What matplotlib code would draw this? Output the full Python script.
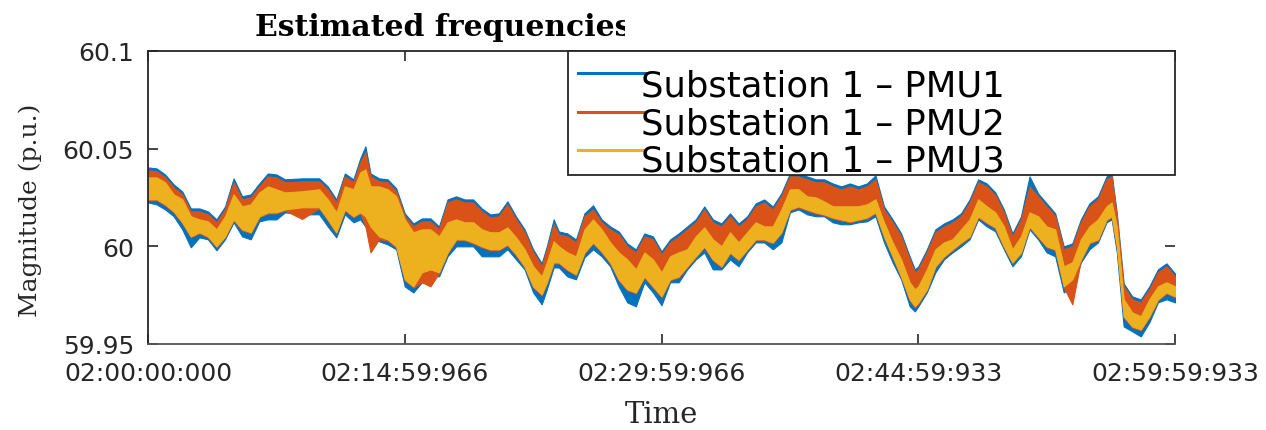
import matplotlib
matplotlib.use("Agg")
import matplotlib.pyplot as plt
from matplotlib.patches import Rectangle
from matplotlib.lines import Line2D
from matplotlib.transforms import Bbox, TransformedBbox

# tempo em minutos a partir de 02:00:00
minutos = [0, 0.5, 1, 1.5, 2, 2.5, 3, 3.5, 4, 4.5, 5, 5.5, 6, 6.5, 7, 7.5, 8,
           9, 10,
           10.5, 11, 11.5, 12,
           12.4, 12.7,
           13, 13.5, 14, 14.5, 15, 15.5, 16, 16.5, 17, 17.5, 18, 18.5, 19, 19.5, 20, 20.5, 21, 21.5, 22, 22.5, 23,
           23.3, 23.7,
           24, 24.5, 25, 25.5, 26, 26.5, 27, 27.5, 28, 28.5, 29, 29.5, 30, 30.5, 31, 31.5, 32, 32.5, 33, 33.5,
           34, 34.5, 35, 35.5, 36, 36.5, 37, 37.5, 38, 38.5, 39, 39.5, 40, 40.5, 41, 41.5, 42, 42.5, 43, 43.5,
           44, 44.5,
           44.8,
           45, 45.5, 46, 46.5, 47, 47.5, 48, 48.5, 49, 49.5, 50, 50.5, 51, 51.5, 52, 52.5, 53, 53.5, 54, 54.5,
           55, 55.5, 56,
           56.3, 56.6,
           57, 57.5, 58, 58.5, 59, 59.5, 60]

# PMU1 (faixa de ruido: minimo / maximo)
pmu1_max = [60.0404, 60.0399, 60.0368, 60.0317, 60.0281, 60.0194, 60.0194, 60.0179, 60.0138, 60.0204, 60.0348, 60.0256, 60.0266, 60.0322, 60.0373, 60.0368, 60.0343,
            60.0348, 60.0348,
            60.0307, 60.0240, 60.0373, 60.0343,
            60.0450, 60.0512,
            60.0373, 60.0348, 60.0343, 60.0297, 60.0169, 60.0117, 60.0143, 60.0143, 60.0102, 60.0240, 60.0256, 60.0240, 60.0240, 60.0194, 60.0163, 60.0169, 60.0230, 60.0153, 60.0087, 59.9984, 59.9913,
            60.0000, 60.0138,
            60.0076, 60.0066, 60.0035, 60.0169, 60.0210, 60.0138, 60.0102, 60.0076, 60.0015, 59.9984, 60.0066, 60.0051, 59.9974, 60.0035, 60.0066, 60.0102, 60.0138, 60.0204, 60.0138, 60.0117,
            60.0169, 60.0117, 60.0153, 60.0220, 60.0240, 60.0204, 60.0271, 60.0373, 60.0373, 60.0358, 60.0343, 60.0343, 60.0322, 60.0307, 60.0322, 60.0307, 60.0322, 60.0363, 60.0204, 60.0138,
            60.0066, 59.9948,
            59.9882,
            59.9897, 59.9984, 60.0087, 60.0117, 60.0138, 60.0169, 60.0240, 60.0343, 60.0322, 60.0276, 60.0189, 60.0066, 60.0153, 60.0358, 60.0271, 60.0220, 60.0169, 60.0000, 60.0015, 60.0138,
            60.0220, 60.0256, 60.0358,
            60.0373, 60.0169,
            59.9810, 59.9744, 59.9728, 59.9795, 59.9882, 59.9913, 59.9861]
pmu1_min = [60.0225, 60.0215, 60.0189, 60.0154, 60.0087, 59.9995, 60.0046, 60.0036, 59.9980, 60.0036, 60.0123, 60.0051, 60.0036, 60.0128, 60.0138, 60.0138, 60.0174,
            60.0164, 60.0164,
            60.0102, 60.0046, 60.0164, 60.0123,
            60.0138, 60.0102,
            60.0061, 60.0026, 60.0010, 59.9985, 59.9795, 59.9764, 59.9816, 59.9857, 59.9846, 59.9949, 60.0000, 60.0000, 60.0000, 59.9949, 59.9949, 59.9949, 59.9985, 59.9933, 59.9882, 59.9764, 59.9703,
            59.9780, 59.9892,
            59.9892, 59.9846, 59.9831, 59.9944, 59.9985, 59.9949, 59.9898, 59.9795, 59.9713, 59.9693, 59.9816, 59.9764, 59.9698, 59.9816, 59.9816, 59.9882, 59.9933, 59.9969, 59.9882, 59.9882,
            59.9933, 59.9898, 59.9969, 60.0020, 60.0020, 59.9985, 60.0020, 60.0174, 60.0189, 60.0164, 60.0154, 60.0154, 60.0123, 60.0113, 60.0113, 60.0123, 60.0128, 60.0154, 60.0020, 59.9918,
            59.9831, 59.9693,
            59.9667,
            59.9693, 59.9764, 59.9867, 59.9933, 59.9969, 60.0000, 60.0036, 60.0138, 60.0102, 60.0077, 59.9985, 59.9898, 59.9949, 60.0087, 60.0036, 59.9969, 59.9949, 59.9764, 59.9795, 59.9918,
            59.9985, 60.0020, 60.0123,
            60.0138, 59.9969,
            59.9590, 59.9565, 59.9539, 59.9611, 59.9713, 59.9729, 59.9713]

# PMU2
pmu2_max = [60.0389, 60.0384, 60.0353, 60.0302, 60.0266, 60.0179, 60.0179, 60.0164, 60.0123, 60.0189, 60.0328, 60.0241, 60.0251, 60.0307, 60.0358, 60.0353, 60.0328,
            60.0333, 60.0333,
            60.0292, 60.0225, 60.0358, 60.0328,
            60.0430, 60.0481,
            60.0358, 60.0333, 60.0328, 60.0282, 60.0154, 60.0102, 60.0128, 60.0128, 60.0087, 60.0225, 60.0241, 60.0225, 60.0225, 60.0179, 60.0148, 60.0154, 60.0215, 60.0138, 60.0072, 59.9969, 59.9898,
            59.9985, 60.0113,
            60.0061, 60.0051, 60.0020, 60.0154, 60.0189, 60.0123, 60.0087, 60.0061, 60.0000, 59.9969, 60.0051, 60.0036, 59.9959, 60.0020, 60.0051, 60.0087, 60.0123, 60.0189, 60.0123, 60.0102,
            60.0154, 60.0102, 60.0138, 60.0205, 60.0225, 60.0189, 60.0256, 60.0358, 60.0358, 60.0343, 60.0328, 60.0328, 60.0307, 60.0292, 60.0307, 60.0292, 60.0307, 60.0343, 60.0189, 60.0123,
            60.0051, 59.9933,
            59.9867,
            59.9882, 59.9969, 60.0072, 60.0102, 60.0123, 60.0154, 60.0225, 60.0328, 60.0307, 60.0261, 60.0174, 60.0051, 60.0138, 60.0307, 60.0256, 60.0205, 60.0154, 59.9985, 60.0000, 60.0123,
            60.0205, 60.0241, 60.0343,
            60.0358, 60.0154,
            59.9795, 59.9729, 59.9713, 59.9780, 59.9867, 59.9898, 59.9846]
pmu2_min = [60.0236, 60.0236, 60.0210, 60.0174, 60.0118, 60.0046, 60.0067, 60.0046, 59.9995, 60.0046, 60.0133, 60.0082, 60.0067, 60.0149, 60.0169, 60.0169, 60.0184,
            60.0140, 60.0195,
            60.0133, 60.0067, 60.0184, 60.0149,
            60.0169, 60.0102,
            59.9969, 60.0036, 60.0030, 59.9995, 59.9826, 59.9790, 59.9816, 59.9795, 59.9862, 59.9964, 60.0031, 60.0031, 60.0015, 59.9995, 59.9980, 59.9980, 60.0005, 59.9954, 59.9893, 59.9790, 59.9749,
            59.9811, 59.9913,
            59.9913, 59.9877, 59.9852, 59.9964, 60.0015, 59.9969, 59.9913, 59.9826, 59.9775, 59.9759, 59.9841, 59.9790, 59.9739, 59.9826, 59.9841, 59.9893, 59.9944, 59.9995, 59.9928, 59.9893,
            59.9964, 59.9928, 59.9980, 60.0031, 60.0031, 60.0015, 60.0067, 60.0184, 60.0200, 60.0184, 60.0169, 60.0159, 60.0143, 60.0133, 60.0123, 60.0133, 60.0143, 60.0169, 60.0046, 59.9944,
            59.9841, 59.9724,
            59.9688,
            59.9708, 59.9775, 59.9893, 59.9944, 59.9980, 60.0015, 60.0046, 60.0149, 60.0118, 60.0092, 59.9995, 59.9913, 59.9964, 60.0097, 60.0046, 59.9995, 59.9980, 59.9790, 59.9703, 59.9928,
            60.0015, 60.0031, 60.0133,
            60.0149, 59.9995,
            59.9637, 59.9585, 59.9570, 59.9637, 59.9724, 59.9759, 59.9739]

# PMU3
pmu3_max = [60.0353, 60.0353, 60.0328, 60.0266, 60.0241, 60.0154, 60.0138, 60.0128, 60.0087, 60.0154, 60.0266, 60.0205, 60.0215, 60.0276, 60.0307, 60.0292, 60.0276,
            60.0282, 60.0292,
            60.0241, 60.0174, 60.0307, 60.0292,
            60.0379, 60.0394,
            60.0307, 60.0307, 60.0292, 60.0256, 60.0138, 60.0072, 60.0087, 60.0087, 60.0051, 60.0123, 60.0138, 60.0123, 60.0123, 60.0087, 60.0072, 60.0072, 60.0097, 60.0046, 59.9985, 59.9898, 59.9846,
            59.9918, 60.0026,
            60.0000, 59.9969, 59.9949, 60.0087, 60.0138, 60.0087, 60.0020, 59.9969, 59.9933, 59.9882, 59.9969, 59.9933, 59.9867, 59.9949, 59.9969, 59.9985, 60.0051, 60.0097, 60.0036, 60.0000,
            60.0072, 60.0020, 60.0072, 60.0123, 60.0102, 60.0102, 60.0189, 60.0292, 60.0292, 60.0256, 60.0251, 60.0230, 60.0205, 60.0205, 60.0205, 60.0205, 60.0215, 60.0241, 60.0123, 60.0020,
            59.9933, 59.9816,
            59.9780,
            59.9795, 59.9882, 59.9985, 60.0020, 60.0036, 60.0087, 60.0138, 60.0241, 60.0205, 60.0174, 60.0102, 59.9985, 60.0051, 60.0174, 60.0154, 60.0102, 60.0087, 59.9898, 59.9918, 60.0036,
            60.0102, 60.0138, 60.0205,
            60.0225, 60.0102,
            59.9729, 59.9662, 59.9642, 59.9729, 59.9795, 59.9816, 59.9795]
pmu3_min = [60.0241, 60.0241, 60.0215, 60.0179, 60.0123, 60.0051, 60.0072, 60.0051, 60.0000, 60.0051, 60.0138, 60.0087, 60.0072, 60.0154, 60.0174, 60.0174, 60.0189,
            60.0200, 60.0200,
            60.0138, 60.0072, 60.0189, 60.0154,
            60.0174, 60.0154,
            60.0102, 60.0051, 60.0036, 60.0000, 59.9831, 59.9795, 59.9867, 59.9882, 59.9867, 59.9969, 60.0036, 60.0036, 60.0020, 60.0000, 59.9985, 59.9985, 60.0010, 59.9959, 59.9898, 59.9795, 59.9754,
            59.9816, 59.9918,
            59.9918, 59.9882, 59.9857, 59.9969, 60.0020, 59.9974, 59.9918, 59.9831, 59.9780, 59.9764, 59.9846, 59.9795, 59.9744, 59.9831, 59.9846, 59.9898, 59.9949, 60.0000, 59.9933, 59.9898,
            59.9969, 59.9933, 59.9985, 60.0036, 60.0036, 60.0020, 60.0072, 60.0189, 60.0205, 60.0189, 60.0174, 60.0164, 60.0148, 60.0138, 60.0128, 60.0138, 60.0148, 60.0174, 60.0051, 59.9949,
            59.9846, 59.9729,
            59.9693,
            59.9713, 59.9780, 59.9898, 59.9949, 59.9985, 60.0020, 60.0051, 60.0154, 60.0123, 60.0097, 60.0000, 59.9918, 59.9969, 60.0102, 60.0051, 60.0000, 59.9985, 59.9795, 59.9831, 59.9933,
            60.0020, 60.0036, 60.0138,
            60.0154, 60.0000,
            59.9642, 59.9590, 59.9575, 59.9642, 59.9729, 59.9764, 59.9744]

series_labels = ["Substation 1 \u2013 PMU1", "Substation 1 \u2013 PMU2", "Substation 1 \u2013 PMU3"]
series_colors = ["#0072BD", "#D95319", "#EDB120"]

x_ticks = [0, 15, 30, 45, 60]
x_ticklabels = ["02:00:00:000", "02:14:59:966", "02:29:59:966", "02:44:59:933", "02:59:59:933"]
y_ticks = [59.95, 60.0, 60.05, 60.1]
y_ticklabels = ["59.95", "60", "60.05", "60.1"]

bandas = [(pmu1_min, pmu1_max), (pmu2_min, pmu2_max), (pmu3_min, pmu3_max)]
for lo, hi in bandas:
    assert len(lo) == len(minutos) and len(hi) == len(minutos)

W, H = 1266, 431
fig = plt.figure(figsize=(W / 100, H / 100), dpi=100)
ax = fig.add_axes([148 / W, 1 - 345 / H, (1175 - 148) / W, (345 - 52) / H])

for (lo, hi), cor in zip(bandas, series_colors):
    ax.fill_between(minutos, lo, hi, color=cor, lw=0.8, zorder=2)

ax.set_xlim(0, 60)
ax.set_ylim(59.95, 60.1)
ax.set_xticks(x_ticks)
ax.set_xticklabels(x_ticklabels)
ax.set_yticks(y_ticks)
ax.set_yticklabels(y_ticklabels)

cinza = "#262626"
ax.tick_params(direction="in", length=7, width=1.2, colors=cinza,
               top=True, right=True, labelsize=18)
ax.tick_params(axis="x", pad=12)
ax.tick_params(axis="y", pad=10)
for lab in ax.get_xticklabels() + ax.get_yticklabels():
    lab.set_fontfamily("DejaVu Sans")
ax.spines["right"].set_visible(False)
for s in ["left", "top", "bottom"]:
    ax.spines[s].set_color(cinza)
    ax.spines[s].set_linewidth(1.3)
ax.spines["bottom"].set_color("#555555")

ax.set_xlabel("Time", family="DejaVu Serif", fontsize=21, color=cinza)
ax.xaxis.set_label_coords(0.5, -0.19)
ax.set_ylabel("Magnitude (p.u.)", family="DejaVu Serif", fontsize=18, color=cinza)
ax.yaxis.set_label_coords(-0.103, 0.46)

# legenda no estilo MATLAB (caixa maior que o conteudo)
def ax_x(px):
    return (px - 148) / (1175 - 148)

def ax_y(py):
    return (345 - py) / (345 - 52)

ax.add_patch(Rectangle((ax_x(568), ax_y(176)), ax_x(1175) - ax_x(568), ax_y(52) - ax_y(176),
                       transform=ax.transAxes, fc="white", ec=cinza, lw=1.3,
                       zorder=5, clip_on=False))
for i, (lab, cor) in enumerate(zip(series_labels, series_colors)):
    y_linha = ax_y(74 + 38.5 * i)
    ax.add_line(Line2D([ax_x(578), ax_x(645)], [y_linha, y_linha], color=cor, lw=2.2,
                       transform=ax.transAxes, zorder=6, clip_on=False))
    ax.text(ax_x(641), ax_y(97 + 37.5 * i), lab, transform=ax.transAxes,
            family="DejaVu Sans", fontsize=25.5, va="baseline", ha="left",
            color="black", zorder=7)

titulo = fig.text(255 / W, 1 - 36 / H, "Estimated frequencies", family="DejaVu Serif",
                  fontweight="bold", fontsize=21.5, va="baseline", ha="left", color="black")
titulo.set_clip_box(TransformedBbox(Bbox.from_extents(0, 0, 625 / W, 1), fig.transFigure))
titulo.set_clip_on(True)

fig.savefig("out.png", dpi=100)
